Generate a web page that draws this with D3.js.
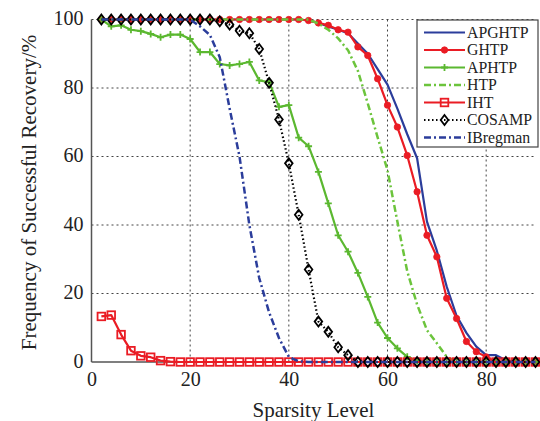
<!DOCTYPE html>
<html><head><meta charset="utf-8">
<script src="https://cdn.jsdelivr.net/npm/d3@7"></script>
<style>body{margin:0;background:#fff}svg{display:block}</style>
</head><body><svg id="c" width="540" height="421" font-family="'Liberation Serif','Times New Roman',serif"></svg>
<script>
const xs = [2,4,6,8,10,12,14,16,18,20,22,24,26,28,30,32,34,36,38,40,42,44,46,48,50,52,54,56,58,60,62,64,66,68,70,72,74,76,78,80,82,84,86,88,90];
const APGHTP = [100,100,100,100,100,100,100,100,100,100,100,100,100,100,100,100,100,100,100,100,100,99.7,99,98,97,96,93,90,85.5,81,74,66.5,59.5,41,32.5,22,13.5,8.5,4.5,2,2,0.5,0,0,0];
const GHTP = [100,100,100,100,100,100,100,100,100,100,100,100,100,100,100,100,100,100,100,100,100,99.7,99,98.3,97,96.3,92,89.5,82.7,75,68.6,60.3,49.7,37,30.7,18.6,12.7,6,3,1.5,0,0,0,0,0];
const APHTP = [100,98,98.3,97,96.6,95.8,94.8,95.6,95.6,94.3,90.5,90.5,87,86.6,87,87.6,82.2,81.7,74.5,75,65.5,63,55.5,46.3,37,32.2,26,19,11.5,7,4,1.5,0.3,0,0,0,0,0,0,0,0,0,0,0,0];
const HTP = [100,100,100,100,100,100,100,100,100,100,100,100,100,100,100,100,100,100,100,100,100,100,98.8,97,94.5,91,85,75.5,65.6,56,41,26.5,16.8,9.3,5.5,1.5,0,0,0,0,0,0,0,0,0];
const IHT = [13.3,13.7,8,3.3,1.8,1.4,0.4,0.1,0,0,0,0,0,0,0,0,0,0,0,0,0,0,0,0,0,0,0,0,0,0,0,0,0,0,0,0,0,0,0,0,0,0,0,0,0];
const COSAMP = [100,100,100,100,100,100,100,100,100,100,100,100,99.5,98.5,96.7,96,91.4,81.5,70.8,58,43,27,11.8,8.8,4.3,2,0,0,0,0,0,0,0,0,0,0,0,0,0,0,0,0,0,0,0];
const IBregman = [100,100,100,100,100,100,100,100,100,100,98,95.5,89,74,60,40,24.5,14.5,7,1.5,0.2,0,0,0,0,0,0,0,0,0,0,0,0,0,0,0,0,0,0,0,0,0,0,0,0];
const xTicks = [0,20,40,60,80];
const yTicks = [0,20,40,60,80,100];
const seriesNames = ["APGHTP","GHTP","APHTP","HTP","IHT","COSAMP","IBregman"];

const FONT = "'Liberation Serif','Times New Roman',serif";
const BLUE="#2b3d9b", RED="#ea1c24", GREEN="#5bb830", LGREEN="#6cc43c";
const styles = {
  APGHTP:{data:APGHTP,color:BLUE,w:2.2,dash:null,marker:null},
  GHTP:{data:GHTP,color:RED,w:2.2,dash:null,marker:"dot"},
  APHTP:{data:APHTP,color:GREEN,w:2.2,dash:null,marker:"plus"},
  HTP:{data:HTP,color:LGREEN,w:2.5,dash:"7,3,2,3",marker:null},
  IHT:{data:IHT,color:RED,w:2.2,dash:null,marker:"square"},
  COSAMP:{data:COSAMP,color:"#000",w:2.2,dash:"1.5,2.5",marker:"diamond"},
  IBregman:{data:IBregman,color:BLUE,w:2.5,dash:"7,3,2,3",marker:null}
};

const svg = d3.select("#c");
const m = {l:91.5,r:535.5,t:19.5,b:362};
const x = d3.scaleLinear().domain([0,90]).range([m.l,m.r]);
const y = d3.scaleLinear().domain([0,100]).range([m.b,m.t]);

// grid
const g = svg.append("g");
g.selectAll(".gh").data(yTicks.filter(d=>d>0)).join("line")
  .attr("x1",m.l).attr("x2",m.r).attr("y1",d=>y(d)).attr("y2",d=>y(d))
  .attr("stroke","#444").attr("stroke-width",1).attr("stroke-dasharray","2,3");
g.selectAll(".gv").data(xTicks.filter(d=>d>0)).join("line")
  .attr("x1",d=>x(d)).attr("x2",d=>x(d)).attr("y1",m.t).attr("y2",m.b)
  .attr("stroke","#444").attr("stroke-width",1).attr("stroke-dasharray","2,3");

// axes
const xa = svg.append("g").attr("transform",`translate(0,${m.b})`)
  .call(d3.axisBottom(x).tickValues(xTicks).tickSize(0).tickPadding(10));
const ya = svg.append("g").attr("transform",`translate(${m.l},0)`)
  .call(d3.axisLeft(y).tickValues(yTicks).tickSize(0).tickPadding(8));
[xa,ya].forEach(a=>{a.attr("font-family",FONT).attr("font-size",20);
  a.select(".domain").attr("stroke","#555").attr("stroke-width",1.5);
  a.selectAll("text").attr("fill","#222");});
ya.selectAll("text").attr("dy","0.25em");
xa.select(".domain").attr("d",`M${m.l},0H${m.r}`);
ya.select(".domain").attr("d",`M0,${m.b}V${m.t}`);

svg.append("text").attr("x",(m.l+m.r)/2).attr("y",417).attr("text-anchor","middle")
  .attr("font-family",FONT).attr("font-size",21).attr("fill","#222").text("Sparsity Level");
svg.append("text").attr("transform",`translate(36,192.5) rotate(-90)`).attr("text-anchor","middle")
  .attr("font-family",FONT).attr("font-size",21).attr("fill","#222").text("Frequency of Successful Recovery/%");

function drawMarker(sel, type, color){
  if(type==="dot"){ sel.append("circle").attr("r",3.2).attr("fill",color).attr("stroke",color).attr("stroke-width",0.8); }
  else if(type==="plus"){ sel.append("path").attr("d","M-3.5,0H3.5M0,-3.5V3.5").attr("stroke",color).attr("stroke-width",1.8).attr("fill","none"); }
  else if(type==="square"){ sel.append("rect").attr("x",-3.8).attr("y",-3.8).attr("width",7.6).attr("height",7.6).attr("fill","none").attr("stroke",color).attr("stroke-width",1.8); }
  else if(type==="diamond"){ sel.append("path").attr("d","M0,-5L3.8,0L0,5L-3.8,0Z").attr("fill","none").attr("stroke",color).attr("stroke-width",1.8); }
}

const line = d3.line().x(d=>x(d[0])).y(d=>y(d[1]));
const plot = svg.append("g");
seriesNames.forEach(name=>{
  const s = styles[name];
  const pts = xs.map((xv,i)=>[xv,s.data[i]]);
  const gg = plot.append("g");
  gg.append("path").attr("d",line(pts)).attr("fill","none").attr("stroke",s.color)
    .attr("stroke-width",s.w).attr("stroke-dasharray",s.dash).attr("stroke-linejoin","round");
  if(s.marker){
    gg.selectAll("g.mk").data(pts).join("g").attr("class","mk")
      .attr("transform",d=>`translate(${x(d[0])},${y(d[1])})`)
      .each(function(){drawMarker(d3.select(this),s.marker,s.color);});
  }
});

// legend
const lg = svg.append("g");
lg.append("rect").attr("x",417).attr("y",20).attr("width",121).attr("height",127)
  .attr("fill","#fff").attr("stroke","#444").attr("stroke-width",1.2);
seriesNames.forEach((name,i)=>{
  const s = styles[name];
  const cy = 32.5 + i*17.5;
  lg.append("line").attr("x1",424).attr("x2",465).attr("y1",cy).attr("y2",cy)
    .attr("stroke",s.color).attr("stroke-width",s.w).attr("stroke-dasharray",s.dash);
  if(s.marker){ const mg = lg.append("g").attr("transform",`translate(444.5,${cy})`); drawMarker(mg,s.marker,s.color); }
  lg.append("text").attr("x",467).attr("y",cy).attr("dy","0.34em")
    .attr("font-family",FONT).attr("font-size",15.8).attr("fill","#222").text(name);
});
</script></body></html>
